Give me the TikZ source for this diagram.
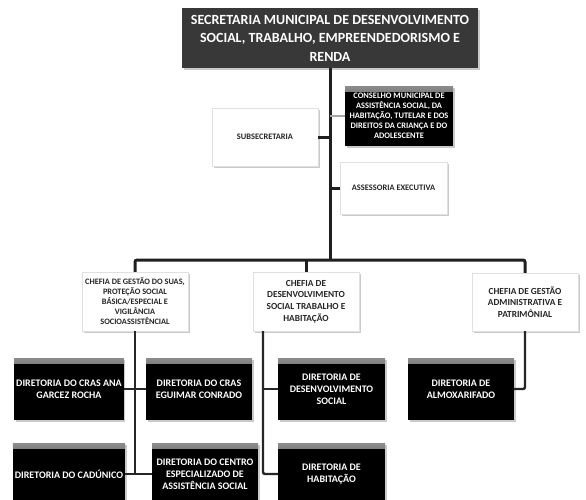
\documentclass[tikz,border=0pt]{standalone}
\usepackage{fontspec}
\setmainfont{Carlito}
\usetikzlibrary{shadows}
\begin{document}
\begin{tikzpicture}[x=1pt,y=-1pt,
  shd/.style={drop shadow={shadow xshift=1.5pt,shadow yshift=-2pt,opacity=0.35,fill=black!60}},
  whitebox/.style={draw=black!12,fill=white,shd,align=center,inner sep=2pt,text=black!85,font=\bfseries\fontsize{8.4}{10}\selectfont},
  blackbox/.style={fill=black,shd,align=center,inner sep=2pt,text=white,font=\bfseries\fontsize{10}{11.8}\selectfont,
    path picture={\shade[top color=black!45,bottom color=black]
      (path picture bounding box.north west) rectangle ([yshift=-5pt]path picture bounding box.north east);}},
  topbox/.style={fill=black!78,shd,align=center,inner sep=2pt,text=white,font=\bfseries\fontsize{14}{18.5}\selectfont},
  link/.style={draw=black!88,line width=3pt,rounded corners=2pt},
  sublink/.style={draw=black!85,line width=2.4pt,rounded corners=2pt},
  greylink/.style={draw=black!35,line width=1.6pt}
]
\useasboundingbox (0,0) rectangle (586,499);
% top
\node[topbox,minimum width=296pt,minimum height=60pt] (top) at (330,38)
  {SECRETARIA MUNICIPAL DE DESENVOLVIMENTO\\SOCIAL, TRABALHO, EMPREENDEDORISMO E\\RENDA};
% staff
\node[whitebox,minimum width=106pt,minimum height=58pt] (sub) at (265,137) {SUBSECRETARIA};
\node[blackbox,font=\bfseries\fontsize{8.4}{10}\selectfont,minimum width=108pt,minimum height=60pt] (cons) at (399,116)
  {CONSELHO MUNICIPAL DE\\ASSISTÊNCIA SOCIAL, DA\\HABITAÇÃO, TUTELAR E DOS\\DIREITOS DA CRIANÇA E DO\\ADOLESCENTE};
\node[whitebox,minimum width=107pt,minimum height=52pt] (ases) at (393.5,188) {ASSESSORIA EXECUTIVA};
% chefias
\node[whitebox,font=\bfseries\fontsize{8.3}{10}\selectfont,minimum width=106pt,minimum height=59pt] (ch1) at (135,301.5)
  {CHEFIA DE GESTÃO DO SUAS,\\PROTEÇÃO SOCIAL\\BÁSICA/ESPECIAL E\\VIGILÂNCIA\\SOCIOASSISTÊNCIAL};
\node[whitebox,font=\bfseries\fontsize{9.3}{11.8}\selectfont,minimum width=106pt,minimum height=59pt] (ch2) at (306,301.5)
  {CHEFIA DE\\DESENVOLVIMENTO\\SOCIAL TRABALHO E\\HABITAÇÃO};
\node[whitebox,font=\bfseries\fontsize{9.3}{11.5}\selectfont,minimum width=106pt,minimum height=58pt] (ch3) at (525,302)
  {CHEFIA DE GESTÃO\\ADMINISTRATIVA E\\PATRIMÔNIAL};
% diretorias
\node[blackbox,minimum width=106pt,minimum height=62pt] (ana) at (69,389) {DIRETORIA DO CRAS ANA\\GARCEZ ROCHA};
\node[blackbox,minimum width=106pt,minimum height=62pt] (egu) at (199,389) {DIRETORIA DO CRAS\\EGUIMAR CONRADO};
\node[blackbox,minimum width=107pt,minimum height=62pt] (des) at (331.5,389) {DIRETORIA DE\\DESENVOLVIMENTO\\SOCIAL};
\node[blackbox,minimum width=106pt,minimum height=62pt] (alm) at (461,389) {DIRETORIA DE\\ALMOXARIFADO};
\node[blackbox,minimum width=106pt,minimum height=62pt] (cad) at (69,474) {DIRETORIA DO CADÚNICO};
\node[blackbox,minimum width=106pt,minimum height=62pt] (cen) at (205,474) {DIRETORIA DO CENTRO\\ESPECIALIZADO DE\\ASSISTÊNCIA SOCIAL};
\node[blackbox,minimum width=107pt,minimum height=62pt] (hab) at (331.5,474) {DIRETORIA DE\\HABITAÇÃO};
% connectors
\coordinate (bar) at (330,260);
\draw[link] (top.south) -- (bar);
\draw[link] (ch1.north) -- (ch1.north |- bar) -- (ch3.north |- bar) -- (ch3.north);
\draw[link] (ch2.north) -- (ch2.north |- bar);
\draw[link] (sub.east) -- (sub.east -| top.south);
\draw[greylink] (cons.west) -- (cons.west -| top.south);
\draw[link] (ases.west) -- (ases.west -| top.south);
% left branch
\draw[sublink] (ch1.south) -- (ch1.south |- cad.east);
\draw[sublink] (ana.east) -- (egu.west);
\draw[sublink] (cad.east) -- (cen.west);
% middle branch
\coordinate (m) at ([xshift=-43pt]ch2.south);
\draw[sublink] (m) |- (hab.west);
\draw[sublink] (m |- des.west) -- (des.west);
% right branch
\draw[sublink] (ch3.south) |- (alm.east);
\end{tikzpicture}
\end{document}
